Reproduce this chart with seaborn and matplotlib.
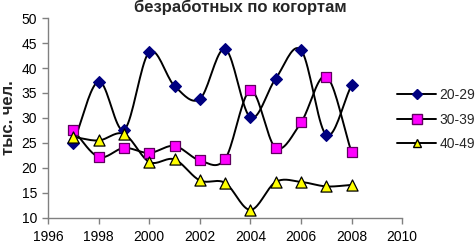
import numpy as np
import pandas as pd
import matplotlib
matplotlib.use("Agg")
import matplotlib.pyplot as plt
import seaborn as sns
from matplotlib.lines import Line2D

years = [1997, 1998, 1999, 2000, 2001, 2002, 2003, 2004, 2005, 2006, 2007, 2008]
s20 = [25.0, 37.3, 27.6, 43.2, 36.4, 33.8, 43.8, 30.1, 37.9, 43.6, 26.6, 36.6]
s30 = [27.5, 22.2, 24.0, 23.0, 24.4, 21.5, 21.8, 35.5, 24.0, 29.1, 38.3, 23.1]
s40 = [26.2, 25.5, 26.8, 21.2, 21.7, 17.5, 17.0, 11.6, 17.2, 17.2, 16.3, 16.6]
labels = ["20-29", "30-39", "40-49"]
title = "безработных по когортам"
ylabel = "тыс. чел."

sns.set_theme(style="white")
plt.rcParams['font.family'] = ['Liberation Sans', 'DejaVu Sans']

df = pd.DataFrame({"year": years * 3,
                   "value": s20 + s30 + s40,
                   "group": [labels[0]] * 12 + [labels[1]] * 12 + [labels[2]] * 12})

fig = plt.figure(figsize=(4.76, 2.44), dpi=100)
ax = fig.add_axes([0.101, 0.107, 0.744, 0.819])


def smooth(x, y, n=20):
    # Catmull-Rom style smoothing like Excel's smoothed line
    x = np.asarray(x, float); y = np.asarray(y, float)
    px = np.concatenate([[2 * x[0] - x[1]], x, [2 * x[-1] - x[-2]]])
    py = np.concatenate([[2 * y[0] - y[1]], y, [2 * y[-1] - y[-2]]])
    xs, ys = [], []
    t = np.linspace(0, 1, n)
    for i in range(1, len(px) - 2):
        p0, p1, p2, p3 = [np.array([px[j], py[j]]) for j in (i - 1, i, i + 1, i + 2)]
        m1 = (p2 - p0) / 2
        m2 = (p3 - p1) / 2
        h00 = 2 * t**3 - 3 * t**2 + 1
        h10 = t**3 - 2 * t**2 + t
        h01 = -2 * t**3 + 3 * t**2
        h11 = t**3 - t**2
        pts = np.outer(h00, p1) + np.outer(h10, m1) + np.outer(h01, p2) + np.outer(h11, m2)
        xs.extend(pts[:, 0]); ys.extend(pts[:, 1])
    return xs, ys


styles = {
    labels[0]: dict(marker="D", mfc="#000080", mec="#000080", ms=6, lms=5),
    labels[1]: dict(marker="s", mfc="#FF00FF", mec="#600060", ms=6.5, lms=6.5),
    labels[2]: dict(marker="^", mfc="#FFFF00", mec="#000000", ms=8, lms=5.5),
}

for lab, ser in zip(labels, [s20, s30, s40]):
    xs, ys = smooth(years, ser)
    ax.plot(xs, ys, color="black", lw=1.4, zorder=2)

for lab in labels:
    st = styles[lab]
    sub = df[df["group"] == lab]
    sns.scatterplot(data=sub, x="year", y="value", marker=st["marker"], color=st["mfc"],
                    edgecolor=st["mec"], linewidth=0.9, s=st["ms"] ** 2, ax=ax, zorder=3,
                    legend=False)

ax.set_xlim(1996, 2010)
ax.set_ylim(10, 50)
ax.set_xticks(range(1996, 2011, 2))
ax.set_yticks(range(10, 51, 5))
ax.set_xlabel("")
ax.set_ylabel(ylabel, fontsize=12, fontweight="bold", labelpad=4)
for s in ["top", "right"]:
    ax.spines[s].set_visible(False)
for s in ["left", "bottom"]:
    ax.spines[s].set_color("#808080")
    ax.spines[s].set_linewidth(1.0)
ax.tick_params(axis="both", direction="out", length=4, width=1, color="#808080",
               labelsize=10, pad=4, left=True, bottom=True, labelcolor="black")
ax.tick_params(axis="x", pad=4.5)

fig.text(0.505, 0.972, title, ha="center", va="center", fontsize=12, fontweight="bold")

handles = [Line2D([0], [0], color="black", lw=1.4, marker=styles[l]["marker"],
                  markerfacecolor=styles[l]["mfc"], markeredgecolor=styles[l]["mec"],
                  markersize=styles[l]["lms"]) for l in labels]
leg = fig.legend(handles, labels, loc="center left", bbox_to_anchor=(0.835, 0.51),
                 frameon=False, fontsize=10, handlelength=2.8, handletextpad=0.2,
                 labelspacing=0.75, borderaxespad=0, borderpad=0)

fig.savefig("out.png", dpi=100)
